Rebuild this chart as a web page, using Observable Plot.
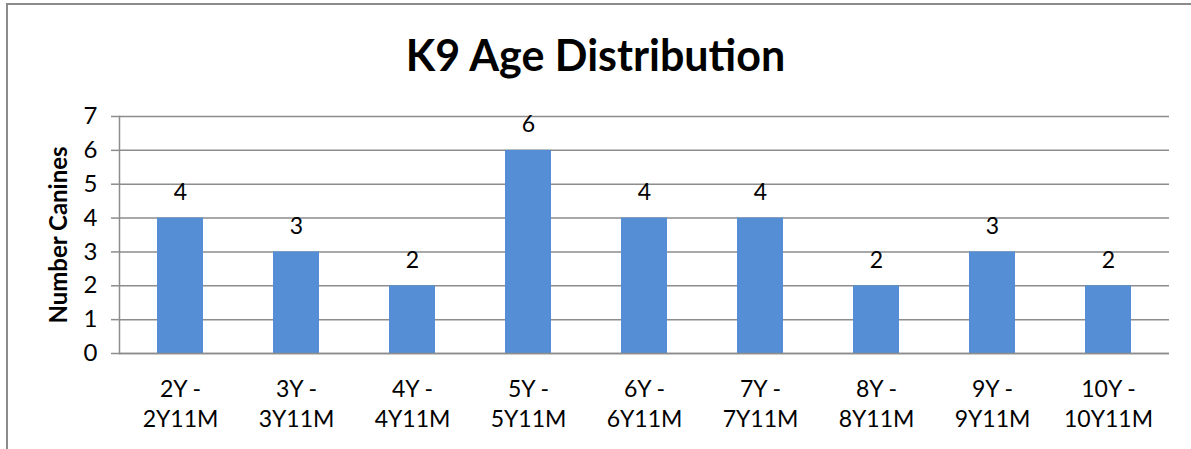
<!DOCTYPE html>
<html>
<head>
<meta charset="utf-8">
<script src="https://cdn.jsdelivr.net/npm/d3@7"></script>
<script src="https://cdn.jsdelivr.net/npm/@observablehq/plot@0.6"></script>
<style>
  html, body { margin: 0; padding: 0; background: #fff; overflow: hidden; }
  #wrap { position: relative; width: 1191px; height: 449px; overflow: hidden; font-family: Lato, "Open Sans", sans-serif; }
  #border { position: absolute; left: 6px; top: 3px; width: 1400px; height: 600px; border: 2px solid #8c8c8c; box-sizing: border-box; }
  #title { position: absolute; left: 0; width: 1191px; top: 28px; text-align: center; font-weight: bold; font-size: 43px; color: #000; line-height: 54px; }
  #chart { position: absolute; left: 0; top: 0; }
  #ylabel { position: absolute; left: 57px; top: 235px; transform: translate(-50%, -50%) rotate(-90deg); font-weight: bold; font-size: 24px; white-space: nowrap; z-index: 2; }
</style>
</head>
<body>
<div id="wrap">
  <div id="border"></div>
  <div id="title">K9 Age Distribution</div>
  <div id="chart"></div>
  <div id="ylabel">Number Canines</div>
</div>
<script>
const categories = ["2Y -\n2Y11M", "3Y -\n3Y11M", "4Y -\n4Y11M", "5Y -\n5Y11M", "6Y -\n6Y11M", "7Y -\n7Y11M", "8Y -\n8Y11M", "9Y -\n9Y11M", "10Y -\n10Y11M"];
const counts = [4, 3, 2, 6, 4, 4, 2, 3, 2];
const yTicks = [0, 1, 2, 3, 4, 5, 6, 7];

const data = categories.map((c, i) => ({category: c, count: counts[i]}));

const chart = Plot.plot({
  width: 1191,
  height: 449,
  marginTop: 116,
  marginBottom: 96,
  marginLeft: 119,
  marginRight: 22,
  style: {fontFamily: "Lato, 'Open Sans', sans-serif", fontSize: "23px", color: "#000", background: "transparent"},
  x: {domain: categories, paddingInner: 0.6, paddingOuter: 0.3, label: null},
  y: {domain: [0, 7], label: null},
  marks: [
    Plot.ruleY(yTicks, {stroke: "#8c8c8c", strokeWidth: 1.5}),
    Plot.barY(data, {x: "category", y: "count", fill: "#558ed5"}),
    Plot.ruleY([0], {stroke: "#8c8c8c", strokeWidth: 1.5}),
    Plot.frame({anchor: "left", stroke: "#8c8c8c", strokeWidth: 1.5}),
    Plot.axisY({ticks: yTicks, tickFormat: d3.format("d"), tickSize: 8, tickPadding: 14, stroke: "#8c8c8c", strokeWidth: 1.5, strokeOpacity: 1, fontSize: 24, label: null}),
    Plot.axisX({tickSize: 0, tickPadding: 22, lineHeight: 1.3, fontSize: 23, label: null}),
    Plot.text(data, {x: "category", y: "count", text: d => String(d.count), dy: -18, lineAnchor: "bottom", fontSize: 23, fill: "#000"})
  ]
});
document.getElementById("chart").appendChild(chart);
</script>
</body>
</html>
